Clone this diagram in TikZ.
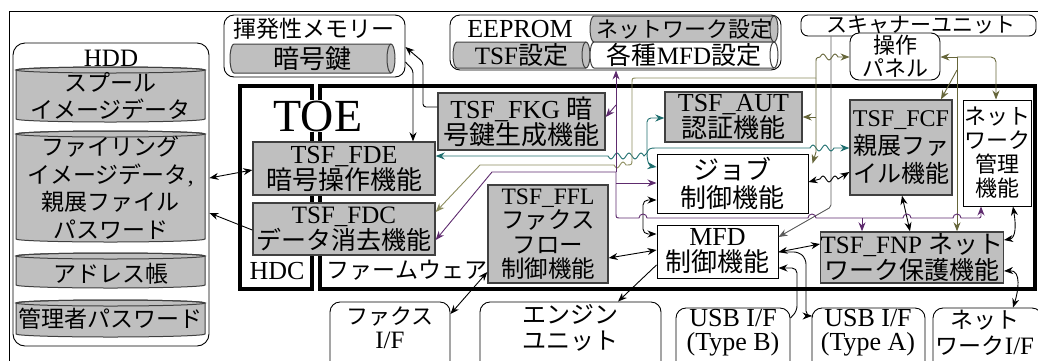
\documentclass[tikz,border=0pt]{standalone}
\usepackage{fontspec}
\setmainfont{Liberation Serif}
\newfontfamily\jpfont{Noto Sans CJK JP}
\XeTeXinterchartokenstate=1
\newXeTeXintercharclass\jpclass
\newcount\chrcnt
\chrcnt="3000
\loop\XeTeXcharclass\chrcnt=\jpclass\relax\ifnum\chrcnt<"30FF\advance\chrcnt by 1\repeat
\chrcnt="4E00
\loop\XeTeXcharclass\chrcnt=\jpclass\relax\ifnum\chrcnt<"9FFF\advance\chrcnt by 1\repeat
\chrcnt="FF00
\loop\XeTeXcharclass\chrcnt=\jpclass\relax\ifnum\chrcnt<"FFEF\advance\chrcnt by 1\repeat
\XeTeXinterchartoks 0 \jpclass = {\jpfont}
\XeTeXinterchartoks 4095 \jpclass = {\jpfont}
\XeTeXinterchartoks \jpclass 0 = {\rmfamily}
\XeTeXinterchartoks \jpclass 4095 = {\rmfamily}
\usetikzlibrary{arrows.meta}
\definecolor{boxgray}{HTML}{BFBFBF}
\definecolor{bordgray}{HTML}{404040}
\definecolor{tealc}{HTML}{1E6E6E}
\definecolor{olivec}{HTML}{66663A}
\definecolor{olivel}{HTML}{8C8C5E}
\definecolor{purplec}{HTML}{5E2B6E}
\definecolor{linegray}{HTML}{5A5A5A}
\newcommand\fsz[2]{\fontsize{#1}{#2}\selectfont}
\newcommand\mkbox[7][]{\node[#1,minimum width={(#5)-(#3)},minimum height={(#6)-(#4)}] (#2) at ({((#3)+(#5))/2},{((#4)+(#6))/2}) {#7};}
\newcommand\vcyl[4]{%
 \filldraw[draw=bordgray,fill=boxgray,line width=1pt] (#1,#2+3) -- (#1,#4-3) arc[start angle=180,end angle=0,x radius={((#3)-(#1))/2},y radius=3] -- (#3,#2+3) arc[start angle=0,end angle=-180,x radius={((#3)-(#1))/2},y radius=3] -- cycle;
 \draw[draw=bordgray,line width=1pt] ({((#1)+(#3))/2},#2+3) ellipse[x radius={((#3)-(#1))/2},y radius=3];}
\newcommand\hcyl[5]{%
 \filldraw[draw=bordgray,fill=#5,line width=1pt] (#1+4,#2) -- (#3-4,#2) arc[start angle=-90,end angle=90,x radius=4,y radius={((#4)-(#2))/2}] -- (#1+4,#4) arc[start angle=90,end angle=270,x radius=4,y radius={((#4)-(#2))/2}] -- cycle;
 \draw[draw=bordgray,line width=1pt] (#3-4,#2) arc[start angle=270,end angle=90,x radius=4,y radius={((#4)-(#2))/2}];}
\tikzset{
 >={Stealth[length=9pt,width=7pt]},
 gbox/.style={draw=bordgray,line width=1.4pt,fill=boxgray,inner sep=0pt,align=center},
 wbox/.style={draw=black,line width=1pt,fill=white,inner sep=0pt,align=center},
 rbox/.style={draw=black,line width=0.9pt,rounded corners=9pt,fill=white,inner sep=0pt},
 lbl/.style={inner sep=0pt,align=center},
 con/.style={line width=0.9pt,->},
 dcon/.style={line width=0.9pt,<->},
 tcon/.style={con,draw=tealc},
 ocon/.style={con,draw=olivec},
 olcon/.style={con,draw=olivel},
 pcon/.style={con,draw=purplec},
}
\begin{document}
\begin{tikzpicture}[x=1pt,y=-1pt]
\useasboundingbox (0,0) rectangle (1038,360);
\begin{scope}
\clip (0,0) rectangle (1038,360);
\draw[line width=1pt] (9,11) rectangle (1045,370);
% HDD
\mkbox[rbox,rounded corners=12pt]{hdd}{13}{43}{209}{346}{}
\node[lbl,font=\fsz{25}{25}] (hddlbl) at (111,58) {HDD};
\vcyl{16}{67}{205}{122}
\mkbox[lbl,font=\fsz{23}{27}]{spool}{16}{70}{205}{122}{スプール\\イメージデータ}
\vcyl{16}{131}{205}{242}
\mkbox[lbl,font=\fsz{23}{27.5}]{filing}{16}{134}{205}{242}{ファイリング\\イメージデータ,\\親展ファイル\\パスワード}
\vcyl{16}{253}{205}{288}
\mkbox[lbl,font=\fsz{23}{23}]{addr}{16}{258}{205}{290}{アドレス帳}
\vcyl{16}{300}{205}{337}
\mkbox[lbl,font=\fsz{23}{23}]{admin}{16}{302}{205}{336}{管理者パスワード}
% volatile memory
\mkbox[rbox,rounded corners=10pt]{volmem}{224}{15}{405}{77}{}
\node[lbl,font=\fsz{23}{23}] (volmemlbl) at (314,29) {揮発性メモリー};
\hcyl{230}{44}{395}{73}{boxgray}
\mkbox[lbl,font=\fsz{26}{26}]{key}{230}{44}{395}{73}{暗号鍵}
% EEPROM
\mkbox[rbox,rounded corners=10pt]{eeprom}{450}{15}{781}{70}{}
\node[lbl,font=\fsz{26}{26}] (eeplbl) at (520,29) {EEPROM};
\hcyl{590}{16}{778}{42}{boxgray}
\mkbox[lbl,font=\fsz{22}{22}]{netset}{590}{16}{778}{42}{ネットワーク設定}
\hcyl{453}{42}{590}{68}{boxgray}
\mkbox[lbl,font=\fsz{25}{25}]{tsfset}{453}{42}{590}{68}{TSF設定}
\hcyl{590}{42}{778}{68}{white}
\mkbox[lbl,font=\fsz{25}{25}]{mfdset}{590}{42}{778}{68}{各種MFD設定}
% scanner
\mkbox[rbox,rounded corners=7pt]{scanner}{801}{15}{1036}{36}{}
\node[lbl,font=\fsz{21}{21}] (scanlbl) at (921,25) {スキャナーユニット};
\mkbox[rbox,rounded corners=9pt,align=center,font=\fsz{22}{23}]{panel}{850}{33}{940}{80}{操作\\パネル}
% TOE
\draw[line width=4pt] (240,86) rectangle (312,289);
\draw[line width=4pt] (320,86) rectangle (1035,289);
\node[lbl,fill=white,inner sep=1pt,font=\fsz{46}{46}] (toe) at (318,116) {TOE};
\node[lbl,font=\fsz{26}{26}] (hdc) at (277,271) {HDC};
\node[lbl,font=\fsz{23}{23}] (fw) at (407,270) {ファームウェア};
% function boxes
\mkbox[gbox,font=\fsz{26}{26}]{fde}{253}{142}{435}{195}{TSF\_FDE\\暗号操作機能}
\mkbox[gbox,font=\fsz{25}{26}]{fdc}{253}{203}{435}{255}{TSF\_FDC\\データ消去機能}
\mkbox[gbox,font=\fsz{26}{26}]{fkg}{438}{93}{605}{150}{TSF\_FKG 暗\\号鍵生成機能}
\mkbox[gbox,font=\fsz{26}{26}]{aut}{665}{92}{802}{142}{TSF\_AUT\\認証機能}
\mkbox[gbox,font=\fsz{24}{28}]{fcf}{850}{100}{952}{195}{TSF\_FCF\\親展ファ\\イル機能}
\mkbox[gbox,font=\fsz{23.5}{24.5}]{ffl}{488}{185}{608}{283}{TSF\_FFL\\ファクス\\フロー\\制御機能}
\mkbox[gbox,font=\fsz{25}{26}]{fnp}{821}{232}{1003}{283}{TSF\_FNP ネット\\ワーク保護機能}
\mkbox[wbox,font=\fsz{22}{24}]{netmgmt}{963}{100}{1031}{206}{ネット\\ワーク\\管理\\機能}
\mkbox[wbox,font=\fsz{26}{28}]{job}{657}{154}{808}{213}{ジョブ\\制御機能}
\mkbox[wbox,font=\fsz{26}{26}]{mfd}{657}{225}{778}{278}{MFD\\制御機能}
% bottom interfaces
\mkbox[rbox,rounded corners=10pt]{faxif}{330}{302}{450}{380}{}
\node[lbl,font=\fsz{22}{24}] (faxlbl) at (390,328) {ファクス\\\rmfamily\fontsize{25}{24}\selectfont I/F};
\mkbox[rbox,rounded corners=10pt]{engine}{480}{302}{661}{380}{}
\node[lbl,font=\fsz{24}{26}] (englbl) at (570,328) {エンジン\\ユニット};
\mkbox[rbox,rounded corners=10pt]{usbb}{676}{308}{790}{380}{}
\node[lbl,font=\fsz{26}{24}] (usbblbl) at (733,333) {USB I/F\\(Type B)};
\mkbox[rbox,rounded corners=10pt]{usba}{812}{308}{925}{380}{}
\node[lbl,font=\fsz{26}{24}] (usbalbl) at (868,333) {USB I/F\\(Type A)};
\mkbox[rbox,rounded corners=10pt]{netif}{933}{308}{1042}{380}{}
\node[lbl,font=\fsz{23}{26}] (netiflbl) at (985,333) {ネット\\ワーク{\fontsize{25}{26}\selectfont I/F}};
% black connectors
\draw[dcon] (hdd.east |- 0,178) -- (fde.west |- 0,170);
\draw[con] (fdc.west |- 0,230) -- (hdd.east |- 0,213);
\draw[con,rounded corners=3pt] (fkg.west |- 0,107) -- (423,107) -- (423,62) -- (volmem.east |- 0,47);
\draw[con,rounded corners=3pt] (volmem.east |- 0,62) -- (413,70) -- (fde.north -| 413,0);
\draw[dcon,rounded corners=5pt] (job.west |- 0,200) -- (643,200) -- (643,234) -- (mfd.west |- 0,234);
\draw[dcon] (ffl.east |- 0,258) -- (mfd.west |- 0,250);
\draw[dcon] (ffl.west |- 0,272) -- (faxif.east |- 0,314);
\draw[con] (mfd.west |- 0,265) -- (engine.north -| 618,0);
\draw[con,draw=linegray,rounded corners=2pt] (scanner.south -| 831,0) -- (831,207) -- (mfd.east |- 0,237);
\draw[dcon] (mfd.east |- 0,252) -- (fnp.west |- 0,244);
\draw[con,rounded corners=5pt] (usbb.east |- 0,318) -- (797,311) -- (797,268) -- (mfd.east |- 0,268);
\draw[con,rounded corners=5pt] (mfd.east |- 0,252) -- (799,252) -- (806,259) -- (806,316) -- (usba.west |- 0,316);
\draw[dcon] (job.east |- 0,182) -- (820,179) sin (823,176) cos (826,179) sin (829,182) cos (832,179) sin (835,176) cos (838,179) -- (fcf.west |- 0,172);
\draw[dcon] (fcf.south -| 902,0) -- (fnp.north -| 910,0);
\draw[dcon] (netmgmt.south -| 1013,0) .. controls (1016,225) and (1016,238) .. (fnp.east |- 0,240);
\draw[dcon] (fnp.east |- 0,271) .. controls (1022,270) and (1018,292) .. (netif.north -| 1013,0);
% teal
\coordinate (tj) at (647,153);
\draw[tcon] (tj) -- (644,156) sin (641,153) cos (638,156) sin (635,159) cos (632,156) sin (629,153) cos (626,156) sin (623,159) cos (620,156) sin (617,153) cos (614,156) sin (611,159) cos (608,156) -- (fde.east |- 0,156);
\draw[tcon,rounded corners=4pt] (tj) -- (647,118) -- (aut.west |- 0,118);
\draw[tcon] (tj) .. controls (647,163) and (650,166) .. (job.west |- 0,167);
\draw[tcon] (tj) .. controls (648,149) and (650,148) .. (655,148) -- (810,148) sin (813,145) cos (816,148) sin (819,151) cos (822,148) sin (825,145) cos (828,148) sin (831,151) cos (834,148) -- (fcf.west |- 0,148);
% olive
\coordinate (oj) at (816,78);
\draw[ocon] (oj) -- (816,62) .. controls (816,58) .. (820,57) sin (823,54) cos (826,57) sin (829,60) cos (832,57) sin (835,54) cos (838,57) -- (panel.west |- 0,57);
\draw[ocon] (816,117) -- (aut.east |- 0,117);
\draw[ocon] (oj) -- (816,152) -- ([xshift=4pt,yshift=-10pt]job.north east);
\draw[olcon] (oj) -- (637,78) .. controls (632,78) .. (632,83) -- (632,159) .. controls (632,165) .. (626,165) sin (623,162) cos (620,165) sin (617,168) cos (614,165) -- (480,165) -- (fdc.east |- 0,212);
\coordinate (oj2) at (957,57);
\draw[ocon] (oj2) -- (panel.east |- 0,57);
\draw[ocon,rounded corners=5pt] (oj2) -- (996,57) -- (netmgmt.north -| 996,0);
\draw[ocon] (oj2) -- (fnp.north -| 957,0);
\draw[ocon] (957,70) -- (fcf.north -| 941,0);
% purple
\coordinate (pj) at (616,172);
\draw[pcon] (pj) -- (eeprom.south -| 616,0);
\draw[pcon] (616,105) -- (fkg.east |- 0,117);
\draw[pcon] (pj) -- (492,172) -- (fdc.east |- 0,240);
\draw[pcon] (616,183) -- (job.west |- 0,183);
\draw[pcon] (pj) -- (616,213) .. controls (616,218) .. (621,218) -- (639,218) arc[start angle=180,end angle=360,radius=4] -- (808,218) arc[start angle=180,end angle=360,radius=4] -- (903,218) arc[start angle=180,end angle=360,radius=4] -- (953,218) arc[start angle=180,end angle=360,radius=4] -- (977,218) .. controls (981,218) .. (981,214) -- (netmgmt.south -| 981,0);
\draw[pcon] (862,218) -- (fnp.north -| 862,0);
\end{scope}
\end{tikzpicture}
\end{document}
